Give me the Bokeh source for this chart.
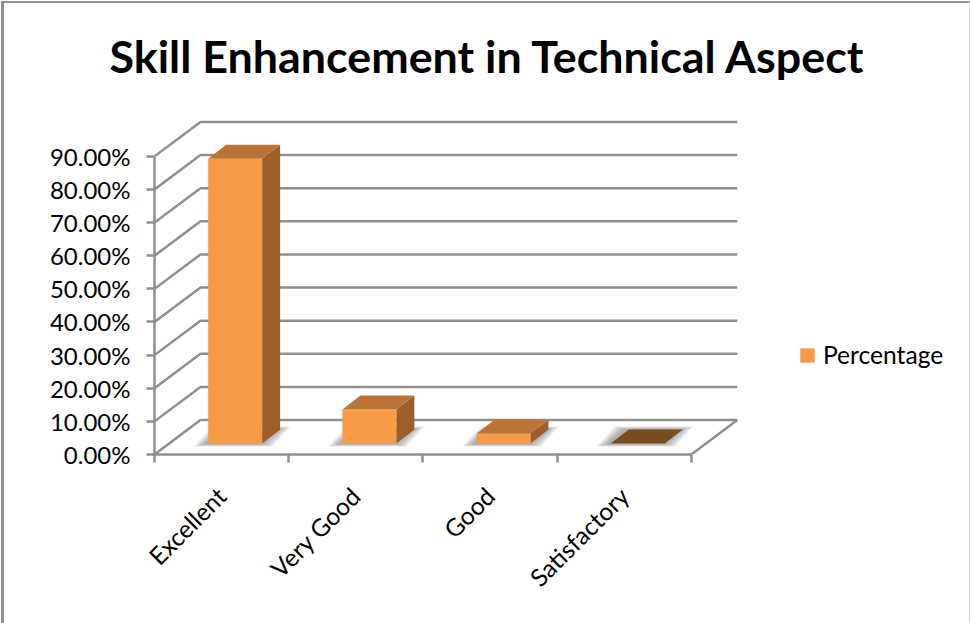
from math import pi
from bokeh.plotting import figure
from bokeh.models import (Range1d, LinearAxis, FixedTicker, Legend, LegendItem, InlineStyleSheet)
from bokeh.embed import file_html
from bokeh.resources import INLINE

title = "Skill Enhancement in Technical Aspect"
categories = ["Excellent", "Very Good", "Good", "Satisfactory"]
values = [86.0, 10.3, 3.0, 0.0]
y_ticks = [0, 10, 20, 30, 40, 50, 60, 70, 80, 90]
y_labels = {v: f"{v:.2f}%" for v in y_ticks}
series_name = "Percentage"

FONT = "Lato"
GREY = "#8f8f8f"
ORANGE = "#F89A48"
TOP = "#BC7336"
SIDE = "#9C5F2B"
FLAT = "#7A4A20"

PX_X = 134.2
PX_Y = 299 / 90
WALL_X, WALL_Y = 46 / PX_X, 34.5 / PX_Y
BAR_OFF, BAR_W = 0.400, 0.402
BAR_BASE = 11 / PX_Y
BAR_DX, BAR_DY = 18 / PX_X, 14 / PX_Y

L, R, T, B, W, H = 154, 0, 108, 161, 962, 615
p = figure(width=W, height=H, output_backend="svg", toolbar_location=None,
           x_range=Range1d(0, (W - L - R) / PX_X),
           y_range=Range1d(0, (H - T - B) / PX_Y),
           x_axis_type=None, y_axis_type=None,
           min_border_left=L, min_border_right=R, min_border_top=T, min_border_bottom=B,
           outline_line_color=None, margin=0)
p.grid.visible = False

p.title.text = title
p.title.text_font = FONT
p.title.text_font_style = "bold"
p.title.text_font_size = "44.8px"
p.title.text_color = "#000000"
p.title.align = "left"
p.title.offset = -45
p.title.standoff = 53

# chart frame: rules of the picture
p.stylesheets = [InlineStyleSheet(css=f"""
:host::before {{content:""; position:absolute; left:1px; top:1px; right:-8px; bottom:-8px; box-sizing:border-box;
  border-left:3px solid {GREY}; border-top:2px solid {GREY}; border-right:1px solid #cccccc;
  pointer-events:none; z-index:10;}}
""")]

# walls
xs, ys = [], []
n = len(categories)
for v in y_ticks:
    xs.append([0, WALL_X, n + WALL_X])
    ys.append([v, v + WALL_Y, v + WALL_Y])
xs.append([n, n + WALL_X])
ys.append([0, WALL_Y])
p.multi_line(xs, ys, line_color=GREY, line_width=2.5)

# soft shadows
for k in range(1, 6):
    grow = (6 - k) * 2.4
    sx, sy = [], []
    for i, v in enumerate(values):
        x0 = i + BAR_OFF - (grow + 2) / PX_X
        x1 = i + BAR_OFF + BAR_W + (grow - 2) / PX_X
        y0 = BAR_BASE - grow * 0.25 / PX_Y
        y1 = BAR_BASE + BAR_DY + grow * 0.25 / PX_Y
        sx.append([x0, x1, x1 + BAR_DX, x0 + BAR_DX])
        sy.append([y0, y0, y1, y1])
    p.patches(sx, sy, fill_color="#777777", fill_alpha=0.16, line_color=None)

# bars
bar_x = [i + BAR_OFF + BAR_W / 2 for i in range(n)]
tops = [BAR_BASE + v for v in values]
sx, sy, tx, ty, tc = [], [], [], [], []
for i, v in enumerate(values):
    x0 = i + BAR_OFF
    x1 = x0 + BAR_W
    sx.append([x1, x1 + BAR_DX, x1 + BAR_DX, x1])
    sy.append([BAR_BASE, BAR_BASE + BAR_DY, tops[i] + BAR_DY, tops[i]])
    tx.append([x0, x1, x1 + BAR_DX, x0 + BAR_DX])
    ty.append([tops[i], tops[i], tops[i] + BAR_DY, tops[i] + BAR_DY])
    tc.append(TOP if v > 0 else FLAT)
p.patches(sx, sy, fill_color=SIDE, line_color=None)
front = p.vbar(x=bar_x, width=BAR_W, bottom=BAR_BASE, top=tops, fill_color=ORANGE, line_color=None)
p.patches(tx, ty, fill_color=tc, line_color=None)

# axes
yaxis = LinearAxis(ticker=FixedTicker(ticks=y_ticks), major_label_overrides=y_labels,
                   bounds=(0, 90), axis_line_color=GREY, axis_line_width=2.5,
                   major_tick_line_color=GREY, major_tick_line_width=2.5, major_tick_in=0, major_tick_out=8,
                   minor_tick_line_color=None, major_label_standoff=16,
                   major_label_text_font=FONT, major_label_text_font_size="24px", major_label_text_color="#000000")
p.add_layout(yaxis, "left")

centers = [i + 0.5 for i in range(n)]
xaxis = LinearAxis(ticker=FixedTicker(ticks=centers, minor_ticks=list(range(n + 1))),
                   major_label_overrides=dict(zip(centers, categories)),
                   major_label_orientation=pi / 4, bounds=(0, n),
                   axis_line_color=GREY, axis_line_width=2.5,
                   major_tick_line_color=None, major_tick_in=0, major_tick_out=0,
                   minor_tick_line_color=GREY, minor_tick_line_width=2.5, minor_tick_in=0, minor_tick_out=8,
                   major_label_standoff=29,
                   major_label_text_font=FONT, major_label_text_font_size="24.5px", major_label_text_color="#000000")
p.add_layout(xaxis, "below")

legend = Legend(items=[LegendItem(label=series_name, renderers=[front])], location=(644, 85),
                border_line_color=None, background_fill_alpha=0, margin=0, padding=0,
                glyph_width=18, glyph_height=18, label_standoff=7,
                label_text_font=FONT, label_text_font_size="24.6px", label_text_color="#000000")
p.add_layout(legend, "center")

open("out.html", "w").write(file_html(p, INLINE))
